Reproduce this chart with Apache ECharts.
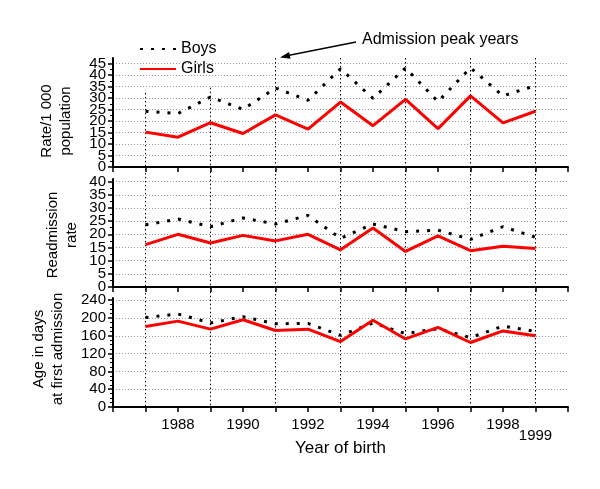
<!DOCTYPE html>
<html><head><meta charset="utf-8">
<script src="https://cdn.jsdelivr.net/npm/echarts@6/dist/echarts.min.js"></script>
<style>html,body{margin:0;padding:0;background:#fff}#c{width:600px;height:489px}</style>
</head><body><div id="c"></div>
<script>
const years = [1987,1988,1989,1990,1991,1992,1993,1994,1995,1996,1997,1998,1999];
const rateBoys   = [24.3,23.3,30.5,25.1,34.4,29.1,42.8,29.9,43.2,28.5,43.2,31.0,35.5];
const rateGirls  = [15.2,13.0,19.3,14.6,22.7,16.5,28.3,18.0,29.5,16.7,31.0,19.2,24.3];
const readmBoys  = [23.6,25.8,22.9,26.2,23.9,27.2,18.5,23.9,21.0,21.6,18.1,22.9,18.9];
const readmGirls = [16.1,20.0,16.7,19.6,17.5,20.0,14.1,22.4,13.5,19.4,13.8,15.5,14.6];
const ageBoys    = [201,209,189,203,187,188,161,189,165,176,156,182,170];
const ageGirls   = [181,193,175,196,172,175,147,195,153,179,145,171,160];
const peakYears  = [1987,1989,1991,1993,1995,1997,1999];
const peakLineTop = [0.90,0.915,1,1,1,1,1];
const rateTicks  = [0,5,10,15,20,25,30,35,40,45];
const readmTicks = [0,5,10,15,20,25,30,35,40];
const ageTicks   = [0,40,80,120,160,200,240];
const yearLabels = [1988,1990,1992,1994,1996,1998];
const lastYearLabel = [1999];

const FONT = 'Liberation Sans, Arial, sans-serif';
const pair = (vals) => years.map((y,i)=>[y, vals[i]]);
const evens = arr => arr.filter((_,k)=>k%2===0);
const odds  = arr => arr.filter((_,k)=>k%2===1);
const boysStyle = {color:'#000', width:3, type:[3,8]};
const girlsStyle = {color:'#ff0000', width:3, type:'solid'};

const grids = [
  {left:113, right:32, top:58, height:109},
  {left:113, right:32, top:179, height:108},
  {left:113, right:32, top:298, height:109},
  {left:113, right:32, top:58, height:349}
].map(g => Object.assign({outerBoundsMode:'none', containLabel:false}, g));

function xAx(i){
  const a = {
    type:'value', gridIndex:i, min:1986, max:2000, interval:1, position:'bottom',
    axisLine:{show:true, onZero:false, lineStyle:{color:'#000', width:2}},
    axisTick:{show:true, inside:false, length:5, lineStyle:{color:'#000', width:1.5}},
    axisLabel:{show:false},
    splitLine:{show:false}
  };
  if (i===2){
    a.axisLabel = {
      show:true, customValues: yearLabels, margin:10, color:'#000',
      fontFamily:FONT, fontSize:15, showMinLabel:true, showMaxLabel:true,
      formatter: v => String(v)
    };
    a.name = 'Year of birth';
    a.nameLocation = 'middle';
    a.nameGap = 33;
    a.nameMoveOverlap = false;
    a.nameTextStyle = {fontFamily:FONT, fontSize:17, color:'#000'};
  }
  if (i===3){
    a.show = false;
  }
  return a;
}
// extra axis on the bottom grid carrying only the lowered "1999" label
const xLast = {
  type:'value', gridIndex:2, min:1986, max:2000, interval:1, position:'bottom', offset:0,
  axisLine:{show:false, onZero:false}, axisTick:{show:false}, splitLine:{show:false},
  axisLabel:{show:true, customValues:lastYearLabel, margin:21, color:'#000',
             fontFamily:FONT, fontSize:15, showMinLabel:true, showMaxLabel:true,
             formatter: v => String(v)}
};
function yAx(i, max, interval, ticks, labels, minorSplit){
  return {
    type:'value', gridIndex:i, min:0, max:max, interval:interval, position:'left',
    axisLine:{show:true, onZero:false, lineStyle:{color:'#000', width:2}},
    axisTick:{show:true, inside:false, length:5, customValues:ticks, lineStyle:{color:'#000', width:1.5}},
    minorTick:{show:true, splitNumber:minorSplit, length:3, lineStyle:{color:'#000', width:1}},
    axisLabel:{show:true, customValues:labels, margin:7, color:'#000', fontFamily:FONT, fontSize:15,
               showMinLabel:true, showMaxLabel:true},
    splitLine:{show:true, lineStyle:{color:'#999', width:1, type:[1,2]}},
    minorSplitLine:{show:false}
  };
}
// label-only companion axis (carries the in-between labels so none get hidden)
function yLab(i, max, interval, labels){
  return {
    type:'value', gridIndex:i, min:0, max:max, interval:interval, position:'left', offset:0,
    axisLine:{show:false, onZero:false}, axisTick:{show:false}, minorTick:{show:false},
    splitLine:{show:false},
    axisLabel:{show:true, customValues:labels, margin:7, color:'#000', fontFamily:FONT, fontSize:15,
               showMinLabel:true, showMaxLabel:true}
  };
}

const peakData = [];
peakYears.forEach((y,i)=>{ peakData.push([y, peakLineTop[i]], [y, 0], [y, '-']); });

const option = {
  animation:false,
  backgroundColor:'#fff',
  grid: grids,
  xAxis: [xAx(0), xAx(1), xAx(2), xAx(3), xLast],
  yAxis: [
    yAx(0, 47.5, 5, rateTicks, evens(rateTicks), 2),
    yAx(1, 41, 5, readmTicks, evens(readmTicks), 2),
    yAx(2, 245, 40, ageTicks, ageTicks, 4),
    {type:'value', gridIndex:3, min:0, max:1, show:false},
    yLab(0, 47.5, 5, odds(rateTicks)),
    yLab(1, 41, 5, odds(readmTicks))
  ],
  legend:{
    orient:'vertical', left:134, top:36, itemWidth:36, itemHeight:14, itemGap:4,
    itemStyle:{opacity:0},
    textStyle:{fontFamily:FONT, fontSize:16, color:'#000'},
    data:['Boys','Girls']
  },
  series:[
    {type:'line', name:'peaks', xAxisIndex:3, yAxisIndex:3, data:peakData, symbol:'none', z:1,
     connectNulls:false, lineStyle:{color:'#000', width:1, type:[1.5,2.5]}, silent:true},
    {type:'line', name:'Boys', xAxisIndex:0, yAxisIndex:0, data:pair(rateBoys), symbol:'none', z:3, itemStyle:{color:'#000'}, lineStyle:boysStyle},
    {type:'line', name:'Girls', xAxisIndex:0, yAxisIndex:0, data:pair(rateGirls), symbol:'none', z:3, itemStyle:{color:'#ff0000'}, lineStyle:girlsStyle},
    {type:'line', name:'Boys', xAxisIndex:1, yAxisIndex:1, data:pair(readmBoys), symbol:'none', z:3, itemStyle:{color:'#000'}, lineStyle:boysStyle},
    {type:'line', name:'Girls', xAxisIndex:1, yAxisIndex:1, data:pair(readmGirls), symbol:'none', z:3, itemStyle:{color:'#ff0000'}, lineStyle:girlsStyle},
    {type:'line', name:'Boys', xAxisIndex:2, yAxisIndex:2, data:pair(ageBoys), symbol:'none', z:3, itemStyle:{color:'#000'}, lineStyle:boysStyle},
    {type:'line', name:'Girls', xAxisIndex:2, yAxisIndex:2, data:pair(ageGirls), symbol:'none', z:3, itemStyle:{color:'#ff0000'}, lineStyle:girlsStyle}
  ],
  graphic:[
    {type:'text', x:56, y:121, rotation:Math.PI/2,
     style:{text:'Rate/1 000\npopulation', fontFamily:FONT, fontSize:15, lineHeight:19, align:'center', verticalAlign:'middle', fill:'#000'}},
    {type:'text', x:62, y:235, rotation:Math.PI/2,
     style:{text:'Readmission\nrate', fontFamily:FONT, fontSize:15, lineHeight:19, align:'center', verticalAlign:'middle', fill:'#000'}},
    {type:'text', x:48, y:349, rotation:Math.PI/2,
     style:{text:'Age in days\nat first admission', fontFamily:FONT, fontSize:15, lineHeight:19, align:'center', verticalAlign:'middle', fill:'#000'}},
    {type:'text', x:362, y:40,
     style:{text:'Admission peak years', fontFamily:FONT, fontSize:16, align:'left', verticalAlign:'middle', fill:'#000'}},
    {type:'line', shape:{x1:356, y1:42, x2:288, y2:55.5}, style:{stroke:'#000', lineWidth:1.3}},
    {type:'polygon', shape:{points:[[280,57.5],[290.5,58.8],[289,52]]}, style:{fill:'#000'}}
  ]
};
const chart = echarts.init(document.getElementById('c'), null, {renderer:'canvas'});
chart.setOption(option);
</script>
</body></html>
